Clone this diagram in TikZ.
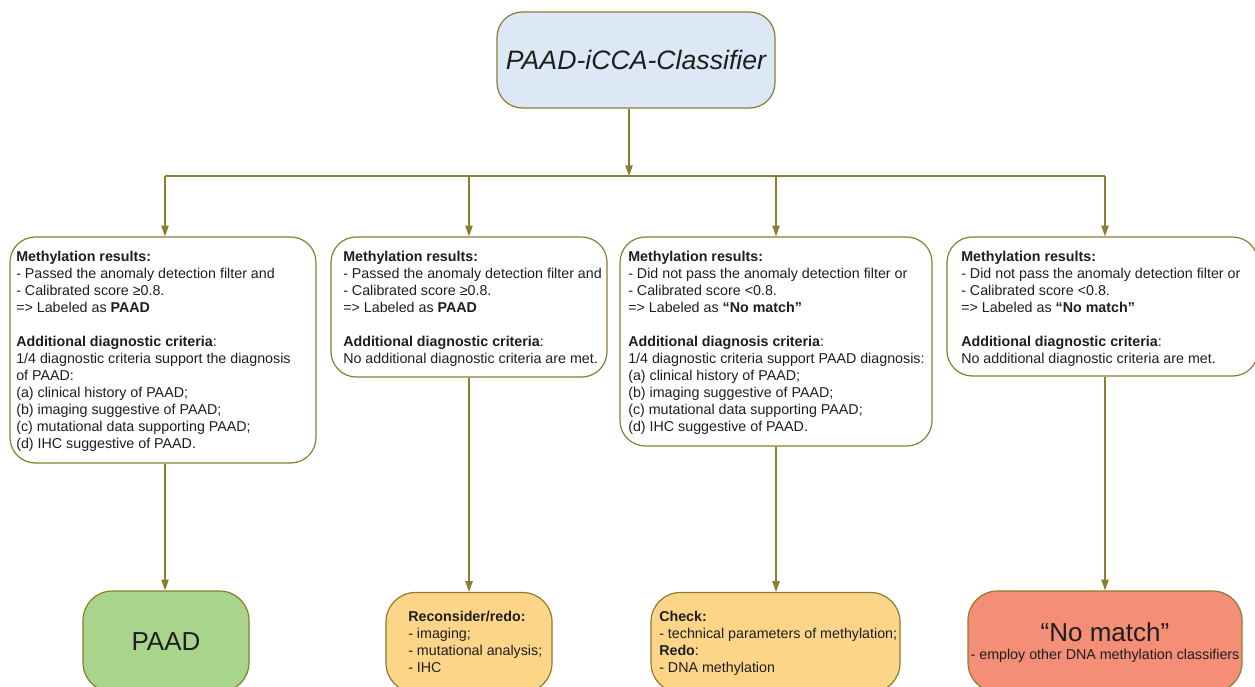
\documentclass[tikz,border=0pt]{standalone}
\usepackage{fontspec}
\setmainfont{Liberation Sans}
\usetikzlibrary{arrows.meta}
\definecolor{borderc}{HTML}{8A7D2E}
\definecolor{textc}{HTML}{1E1E1E}
\definecolor{bluef}{HTML}{DCE8F5}
\definecolor{greenf}{HTML}{A8D48B}
\definecolor{orangef}{HTML}{FDD589}
\definecolor{redf}{HTML}{F48E76}
\tikzset{
  box/.style={draw=borderc, line width=0.9pt, rounded corners=19pt, inner sep=0pt, text=textc},
  resbox/.style={box, rounded corners=22pt},
  txt/.style={anchor=north west, inner sep=0pt, align=left, text=textc, font=\fontsize{10.7}{12.75}\selectfont},
  big/.style={font=\fontsize{19.5}{23}\selectfont},
  conn/.style={draw=borderc, line width=1.1pt},
  arr/.style={conn, -{Triangle[length=8pt,width=5.4pt]}}
}
\begin{document}
\begin{tikzpicture}[x=0.75pt,y=-0.75pt]
\useasboundingbox (0,0) rectangle (1255,686);
\clip (0,0) rectangle (1255,686);
% top
\node[box, fill=bluef, minimum width=208.5pt, minimum height=72pt, font=\fontsize{20}{24}\selectfont\itshape] (top) at (636,60) {PAAD-iCCA-Classifier};
% middle boxes
\node[box, fill=white, minimum width=229.5pt, minimum height=169.5pt] (b1) at (163,350) {};
\node[box, fill=white, minimum width=207pt, minimum height=105pt] (b2) at (469,307) {};
\node[box, fill=white, minimum width=234pt, minimum height=156.75pt] (b3) at (776,341.5) {};
\node[box, fill=white, minimum width=233.25pt, minimum height=104.25pt] (b4) at (1102.5,306.5) {};
\node[txt] (t1) at (16,251) {\textbf{Methylation results:}\\- Passed the anomaly detection filter and\\- Calibrated score ≥0.8.\\=> Labeled as \textbf{PAAD}\\[12.75pt]\textbf{Additional diagnostic criteria}:\\1/4 diagnostic criteria support the diagnosis\\of PAAD:\\(a) clinical history of PAAD;\\(b) imaging suggestive of PAAD;\\(c) mutational data supporting PAAD;\\(d) IHC suggestive of PAAD.};
\node[txt] (t2) at (343,251) {\textbf{Methylation results:}\\- Passed the anomaly detection filter and\\- Calibrated score ≥0.8.\\=> Labeled as \textbf{PAAD}\\[12.75pt]\textbf{Additional diagnostic criteria}:\\No additional diagnostic criteria are met.};
\node[txt] (t3) at (628,251) {\textbf{Methylation results:}\\- Did not pass the anomaly detection filter or\\- Calibrated score <0.8.\\=> Labeled as \textbf{“No match”}\\[12.75pt]\textbf{Additional diagnosis criteria}:\\1/4 diagnostic criteria support PAAD diagnosis:\\(a) clinical history of PAAD;\\(b) imaging suggestive of PAAD;\\(c) mutational data supporting PAAD;\\(d) IHC suggestive of PAAD.};
\node[txt] (t4) at (961,251) {\textbf{Methylation results:}\\- Did not pass the anomaly detection filter or\\- Calibrated score <0.8.\\=> Labeled as \textbf{“No match”}\\[12.75pt]\textbf{Additional diagnostic criteria}:\\No additional diagnostic criteria are met.};
% bottom boxes
\node[resbox, fill=greenf, minimum width=124.5pt, minimum height=75.75pt, big] (r1) at (166,641.5) {PAAD};
\node[resbox, fill=orangef, minimum width=124.5pt, minimum height=75pt] (r2) at (469,642.5) {};
\node[resbox, fill=orangef, minimum width=186.75pt, minimum height=75pt] (r3) at (775.5,642.5) {};
\node[resbox, fill=redf, minimum width=205.5pt, minimum height=75.75pt] (r4) at (1105,641.5) {};
\node[txt] (t6) at (408,610.5) {\textbf{Reconsider/redo:}\\- imaging;\\- mutational analysis;\\- IHC};
\node[txt] (t7) at (659,610.5) {\textbf{Check:}\\- technical parameters of methylation;\\\textbf{Redo}:\\- DNA methylation};
\node[inner sep=0pt, text=textc, big] (t8) at (1105,632) {“No match”};
\node[inner sep=0pt, text=textc, font=\fontsize{10.7}{12.75}\selectfont] (t9) at (1105,656) {- employ other DNA methylation classifiers};
% connectors
\coordinate (j) at (629,176);
\coordinate (c1) at (165,176);
\coordinate (c2) at (469,176);
\coordinate (c3) at (776,176);
\coordinate (c4) at (1105,176);
\draw[arr] (top.south -| j) -- (j);
\draw[conn] (c1) -- (c4);
\draw[arr] (c1) -- (c1 |- b1.north);
\draw[arr] (c2) -- (c2 |- b2.north);
\draw[arr] (c3) -- (c3 |- b3.north);
\draw[arr] (c4) -- (c4 |- b4.north);
\draw[arr] (c1 |- b1.south) -- (c1 |- r1.north);
\draw[arr] (c2 |- b2.south) -- (c2 |- r2.north);
\draw[arr] (c3 |- b3.south) -- (c3 |- r3.north);
\draw[arr] (c4 |- b4.south) -- (c4 |- r4.north);
\end{tikzpicture}
\end{document}
